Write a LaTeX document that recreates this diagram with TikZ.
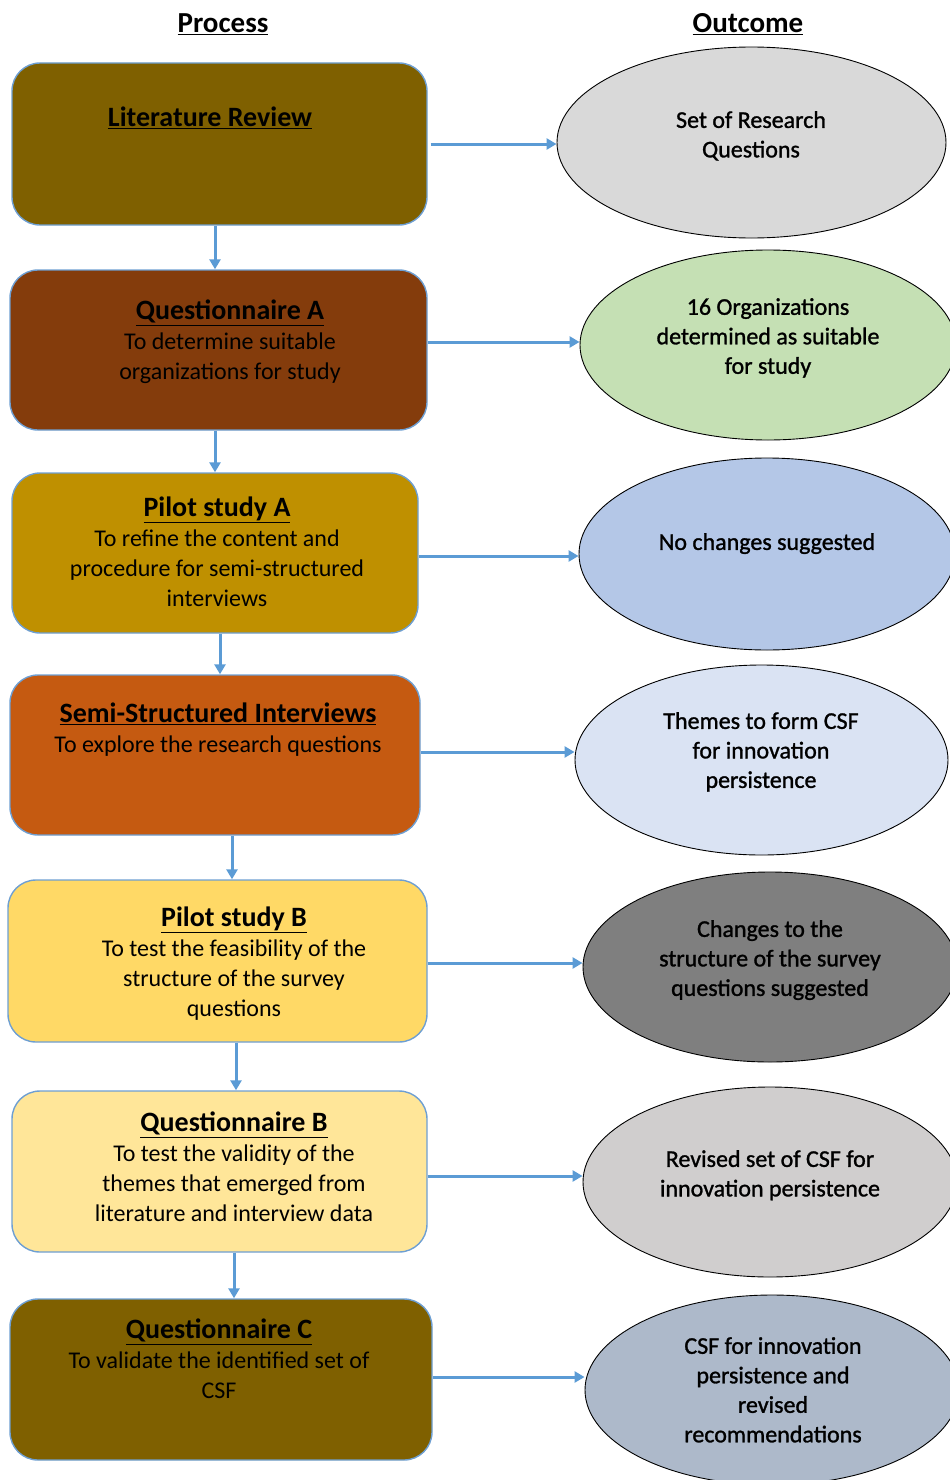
\documentclass[tikz,border=0pt]{standalone}
\usepackage{fontspec}
\setmainfont{Carlito}
\newfontfamily\outfont[FakeBold=1.2]{Carlito}
\usetikzlibrary{shapes.geometric,arrows.meta}

\definecolor{arrowblue}{HTML}{5B9BD5}
\definecolor{boxedge}{HTML}{6E9FD2}
\definecolor{olive}{HTML}{7F6000}
\definecolor{rust}{HTML}{843C0C}
\definecolor{gold}{HTML}{BF9000}
\definecolor{orangebrown}{HTML}{C55A11}
\definecolor{sunyellow}{HTML}{FFD966}
\definecolor{paleyellow}{HTML}{FFE699}
\definecolor{lightgrey}{HTML}{D9D9D9}
\definecolor{palegreen}{HTML}{C5E0B4}
\definecolor{paleblue}{HTML}{B4C7E7}
\definecolor{iceblue}{HTML}{DAE3F3}
\definecolor{midgrey}{HTML}{7F7F7F}
\definecolor{warmgrey}{HTML}{D0CECE}
\definecolor{slateblue}{HTML}{ADB9CA}

\newcommand\hd[1]{{\bfseries\fontsize{28}{30}\selectfont\underline{#1}}}

\tikzset{
  stepbox/.style={draw=boxedge, line width=1.4pt, rounded corners=28pt,
    inner sep=0pt},
  outcome/.style={draw=black, line width=0.9pt, ellipse, inner sep=0pt},
  txt/.style={align=center, inner sep=0pt, anchor=north,
    font=\fontsize{24}{30}\selectfont},
  etxt/.style={align=center, inner sep=0pt, anchor=north,
    font=\outfont\fontsize{24}{29.5}\selectfont},
  arr/.style={draw=arrowblue, line width=3pt,
    -{Triangle[length=10pt,width=11pt]}},
}

\begin{document}
\begin{tikzpicture}[x=1pt,y=-1pt]
\useasboundingbox (0,0) rectangle (950,1480);

% column headings
\node[inner sep=0pt] (hproc) at (223,24)
  {\bfseries\fontsize{29}{30}\selectfont\underline{Process}};
\node[inner sep=0pt] (hout) at (748,24)
  {\bfseries\fontsize{29}{30}\selectfont\underline{Outcome}};

% process steps
\node[stepbox, fill=olive, minimum width=415pt, minimum height=162pt] (b1) at (219.5,144) {};
\node[stepbox, fill=rust, minimum width=417pt, minimum height=160pt] (b2) at (218.5,350) {};
\node[stepbox, fill=gold, minimum width=406pt, minimum height=160pt] (b3) at (215,553) {};
\node[stepbox, fill=orangebrown, minimum width=410pt, minimum height=160pt] (b4) at (215,755) {};
\node[stepbox, fill=sunyellow, minimum width=419pt, minimum height=162pt] (b5) at (217.5,961) {};
\node[stepbox, fill=paleyellow, minimum width=415pt, minimum height=161pt] (b6) at (219.5,1171.5) {};
\node[stepbox, fill=olive, minimum width=422pt, minimum height=161pt] (b7) at (221,1379.5) {};

\node[txt] (t1) at (210,107) {\hd{Literature Review}};
\node[txt] (t2) at (230,300) {\hd{Questionnaire A}\\To determine suitable\\organizations for study};
\node[txt] (t3) at (217,497) {\hd{Pilot study A}\\To refine the content and\\procedure for semi-structured\\interviews};
\node[txt] (t4) at (218,703) {\hd{Semi-Structured Interviews}\\To explore the research questions};
\node[txt] (t5) at (234,907) {\hd{Pilot study B}\\To test the feasibility of the\\structure of the survey\\questions};
\node[txt] (t6) at (234,1112) {\hd{Questionnaire B}\\To test the validity of the\\themes that emerged from\\literature and interview data};
\node[txt] (t7) at (219,1319) {\hd{Questionnaire C}\\To validate the identified set of\\CSF};

% outcomes
\node[outcome, fill=lightgrey, minimum width=389pt, minimum height=191pt] (e1) at (751.5,142.5) {};
\node[outcome, fill=palegreen, minimum width=376pt, minimum height=190pt] (e2) at (768,345) {};
\node[outcome, fill=paleblue, minimum width=376pt, minimum height=192pt] (e3) at (767,554) {};
\node[outcome, fill=iceblue, minimum width=373pt, minimum height=190pt] (e4) at (761.5,760) {};
\node[outcome, fill=midgrey, minimum width=374pt, minimum height=190pt] (e5) at (770,967) {};
\node[outcome, fill=warmgrey, minimum width=374pt, minimum height=190pt] (e6) at (770,1182) {};
\node[outcome, fill=slateblue, minimum width=374pt, minimum height=190pt] (e7) at (772,1390) {};

\node[etxt] (u1) at (751,111) {Set of Research\\Questions};
\node[etxt] (u2) at (768,298) {16 Organizations\\determined as suitable\\for study};
\node[etxt] (u3) at (767,533) {No changes suggested};
\node[etxt] (u4) at (761,712) {Themes to form CSF\\for innovation\\persistence};
\node[etxt] (u5) at (770,920) {Changes to the\\structure of the survey\\questions suggested};
\node[etxt] (u6) at (770,1150) {Revised set of CSF for\\innovation persistence};
\node[etxt] (u7) at (773,1337) {CSF for innovation\\persistence and\\revised\\recommendations};

% step-to-step arrows
\draw[arr] ([xshift=-4.5pt]b1.south) -- ([xshift=-4.5pt]b1.south |- b2.north);
\draw[arr] ([xshift=-3.5pt]b2.south) -- ([xshift=-3.5pt]b2.south |- b3.north);
\draw[arr] ([xshift=5pt]b3.south) -- ([xshift=5pt]b3.south |- b4.north);
\draw[arr] ([xshift=17pt]b4.south) -- ([xshift=17pt]b4.south |- b5.north);
\draw[arr] ([xshift=18.5pt]b5.south) -- ([xshift=18.5pt]b5.south |- b6.north);
\draw[arr] ([xshift=14.5pt]b6.south) -- ([xshift=14.5pt]b6.south |- b7.north);

% step-to-outcome arrows
\draw[arr] ([xshift=3pt]b1.east) -- (b1.east -| e1.west);
\draw[arr] ([yshift=8pt]b2.east) -- ([yshift=8pt]b2.east -| e2.west);
\draw[arr] ([yshift=-3pt]b3.east) -- ([yshift=-3pt]b3.east -| e3.west);
\draw[arr] ([yshift=3pt]b4.east) -- ([yshift=3pt]b4.east -| e4.west);
\draw[arr] ([yshift=-2pt]b5.east) -- ([yshift=-2pt]b5.east -| e5.west);
\draw[arr] ([yshift=-4.5pt]b6.east) -- ([yshift=-4.5pt]b6.east -| e6.west);
\draw[arr] ([yshift=2.5pt]b7.east) -- ([yshift=2.5pt]b7.east -| e7.west);
\end{tikzpicture}
\end{document}
